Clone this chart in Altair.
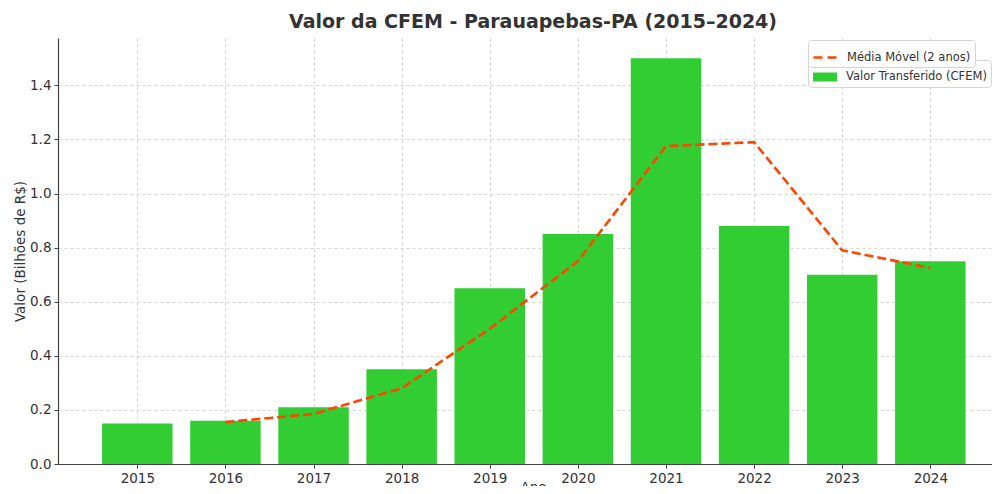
import altair as alt
import pandas as pd

anos = [2015, 2016, 2017, 2018, 2019, 2020, 2021, 2022, 2023, 2024]
valores = [0.15, 0.16, 0.21, 0.35, 0.65, 0.85, 1.50, 0.88, 0.70, 0.75]
media_movel = [None, 0.155, 0.185, 0.28, 0.50, 0.75, 1.175, 1.19, 0.79, 0.725]
y_ticks = [0.0, 0.2, 0.4, 0.6, 0.8, 1.0, 1.2, 1.4]
serie_barra = "Valor Transferido (CFEM)"
serie_linha = "Média Móvel (2 anos)"

df = pd.DataFrame({"Ano": anos, "Valor": valores, "Media": media_movel})
df["barra"] = serie_barra
df["linha"] = serie_linha

FONT = "DejaVu Sans"
x_scale = alt.Scale(domain=[2014.1, 2024.7], nice=False, zero=False)
y_scale = alt.Scale(domain=[0, 1.575], nice=False)

x_axis = alt.Axis(values=anos, format="d", title="Ano", grid=True, labelFlush=False,
                  titleY=16, titleBaseline="top", titleX=475)
y_axis = alt.Axis(values=y_ticks, format=".1f", title="Valor (Bilhões de R$)", grid=True,
                  titleX=-31, titleY=213)

base = alt.Chart(df)

bars = base.transform_calculate(
    x0="datum.Ano - 0.4", x1="datum.Ano + 0.4"
).mark_bar(color="#32CD32").encode(
    x=alt.X("x0:Q", scale=x_scale, axis=x_axis),
    x2="x1:Q",
    y=alt.Y("Valor:Q", scale=y_scale, axis=y_axis),
    y2=alt.datum(0),
    fill=alt.Fill("barra:N", scale=alt.Scale(domain=[serie_barra], range=["#32CD32"]),
                  legend=alt.Legend(title=None, orient="none", legendX=750, legendY=22,
                                    symbolType="M-1,-0.375H1V0.375H-1Z", symbolSize=576,
                                    symbolOpacity=1, labelFontSize=11.5, labelColor="#333",
                                    labelOffset=8,
                                    padding=4, fillColor="white", strokeColor="#d5d5d5",
                                    cornerRadius=3, labelLimit=300)),
)

line = base.transform_filter("datum.Media != null").mark_line(
    strokeDash=[9, 4], strokeWidth=2.6
).encode(
    x=alt.X("Ano:Q", scale=x_scale, axis=x_axis),
    y=alt.Y("Media:Q", scale=y_scale, axis=y_axis),
    stroke=alt.Stroke("linha:N", scale=alt.Scale(domain=[serie_linha], range=["#FF4500"]),
                      legend=alt.Legend(title=None, orient="none", legendX=750, legendY=2,
                                        symbolType="stroke", symbolSize=576, symbolStrokeWidth=2.6,
                                        symbolDash=[9, 5], labelFontSize=11.5, labelColor="#333",
                                        labelOffset=8,
                                        padding=4, fillColor="white", strokeColor="#d5d5d5",
                                        cornerRadius=3, labelLimit=300)),
)

chart = alt.layer(bars, line).properties(
    width=934,
    height=426,
    title=alt.TitleParams("Valor da CFEM - Parauapebas-PA (2015–2024)", font=FONT,
                          fontSize=19, fontWeight="bold", color="#333", anchor="middle",
                          offset=6, dx=8),
    padding={"left": 50, "top": 30, "right": 0, "bottom": 22},
    autosize=alt.AutoSizeParams(type="none"),
).configure_view(stroke=None).configure_axis(
    labelFont=FONT, titleFont=FONT, labelFontSize=13.5, titleFontSize=13.5,
    labelColor="#333", titleColor="#333", titleFontWeight="normal",
    domainColor="#444", domainWidth=1.2, tickColor="#444", tickSize=4,
    gridColor="#cccccc", gridDash=[3, 3], gridWidth=0.8, labelPadding=3,
).configure_legend(labelFont=FONT)

chart.save("out.html", embed_options={"renderer": "svg", "actions": False})
